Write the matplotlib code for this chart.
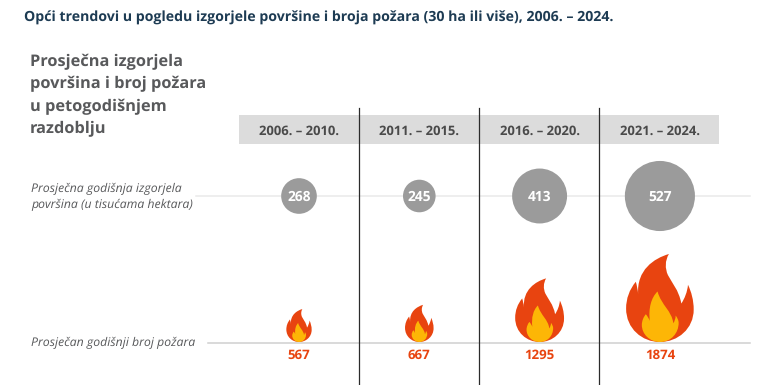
import matplotlib
matplotlib.use("Agg")
import matplotlib.pyplot as plt
from matplotlib.patches import Circle, PathPatch, Rectangle
from matplotlib.path import Path
from matplotlib.transforms import Affine2D

plt.rcParams["text.hinting"] = "none"

# Data
periods = ["2006. – 2010.", "2011. – 2015.", "2016. – 2020.", "2021. – 2024."]
burnt_area = [268, 245, 413, 527]
fire_count = [567, 667, 1295, 1874]
title = "Opći trendovi u pogledu izgorjele površine i broja požara (30 ha ili više), 2006. – 2024."
heading = ["Prosječna izgorjela", "površina i broj požara", "u petogodišnjem", "razdoblju"]
area_label = ["Prosječna godišnja izgorjela", "površina (u tisućama hektara)"]
count_label = "Prosječan godišnji broj požara"

GREY = "#9b9b9b"
RED = "#e84410"
YELLOW = "#fdb606"


def flame_path(points):
    # points are M, then (c1, c2, end) triples, y up, height 1 is the full flame
    verts = [points[0]]
    codes = [Path.MOVETO]
    for p in points[1:]:
        verts.append(p)
        codes.append(Path.CURVE4)
    verts.append(points[0])
    codes.append(Path.CLOSEPOLY)
    return Path(verts, codes)


def norm(points):
    return [((x - 538) / 263, (305 - y) / 263) for x, y in points]


outer = flame_path(norm([
    (538, 305),
    (592, 305), (639, 265), (639, 208),
    (639, 180), (632, 155), (622, 134),
    (620, 155), (612, 175), (602, 190),
    (595, 150), (572, 125), (562, 105),
    (553, 85), (553, 62), (565, 42),
    (520, 55), (468, 90), (473, 162),
    (472, 150), (469, 135), (466, 125),
    (447, 148), (437, 175), (437, 205),
    (437, 265), (485, 305), (538, 305),
]))
inner = flame_path(norm([
    (538, 305),
    (572, 305), (594, 278), (594, 248),
    (594, 240), (590, 232), (585, 226),
    (585, 235), (582, 243), (578, 249),
    (574, 212), (542, 195), (531, 154),
    (512, 172), (503, 205), (508, 242),
    (505, 235), (501, 228), (496, 222),
    (489, 230), (484, 242), (484, 254),
    (484, 282), (508, 305), (538, 305),
]))

fig = plt.figure(figsize=(7.68, 3.85), dpi=100)
ax = fig.add_axes([0, 0, 1, 1])
ax.set_xlim(0, 768)
ax.set_ylim(385, 0)
ax.axis("off")

columns = [299 + 120.3 * i for i in range(len(periods))]
px = 0.72  # px to pt


def label(x, y, s, size, **kw):
    kw.setdefault("family", "Open Sans")
    kw.setdefault("va", "baseline")
    ax.text(x, y, s, fontsize=size * px, **kw)


label(24, 22, title, 14.1, weight="bold", color="#1d3b53")

for i, line in enumerate(heading):
    label(30, 66 + i * 22.4, line, 16.4, weight="bold", color="#58595b")

ax.add_patch(Rectangle((239, 115), 480, 28.5, fc="#dcdcdc", ec="none", zorder=1))
ax.plot([196, 750], [196, 196], color="#e9e9e9", lw=1.1, zorder=1)
ax.plot([208, 750], [342.5, 342.5], color="#cfcfcf", lw=1.1, zorder=1)
for x in columns[:-1]:
    ax.plot([x + 59.5, x + 59.5], [108, 385], color="#2b2b2b", lw=0.9, zorder=2)

for i, line in enumerate(area_label):
    label(31, 192 + i * 16, line, 12.2, style="italic", color="#58595b")
label(31, 346, count_label, 12.2, style="italic", color="#58595b")

for x, period, area, count in zip(columns, periods, burnt_area, fire_count):
    label(x, 134.5, period, 13, weight="bold", color="#4a4a4a", ha="center")

    ax.add_patch(Circle((x, 196), area * 0.133 / 2, fc=GREY, ec="none", zorder=3))
    label(x, 201, str(area), 13.8, weight="bold", color="white", ha="center", zorder=4)

    h = 9.1 + 0.0421 * count
    tr = Affine2D().scale(h, -h).translate(x, 342) + ax.transData
    ax.add_patch(PathPatch(outer, fc=RED, ec="none", transform=tr, zorder=3))
    ax.add_patch(PathPatch(inner, fc=YELLOW, ec="none", transform=tr, zorder=4))
    label(x, 359, str(count), 13.2, weight="bold", color=RED, ha="center")

fig.savefig("out.png", dpi=100)
